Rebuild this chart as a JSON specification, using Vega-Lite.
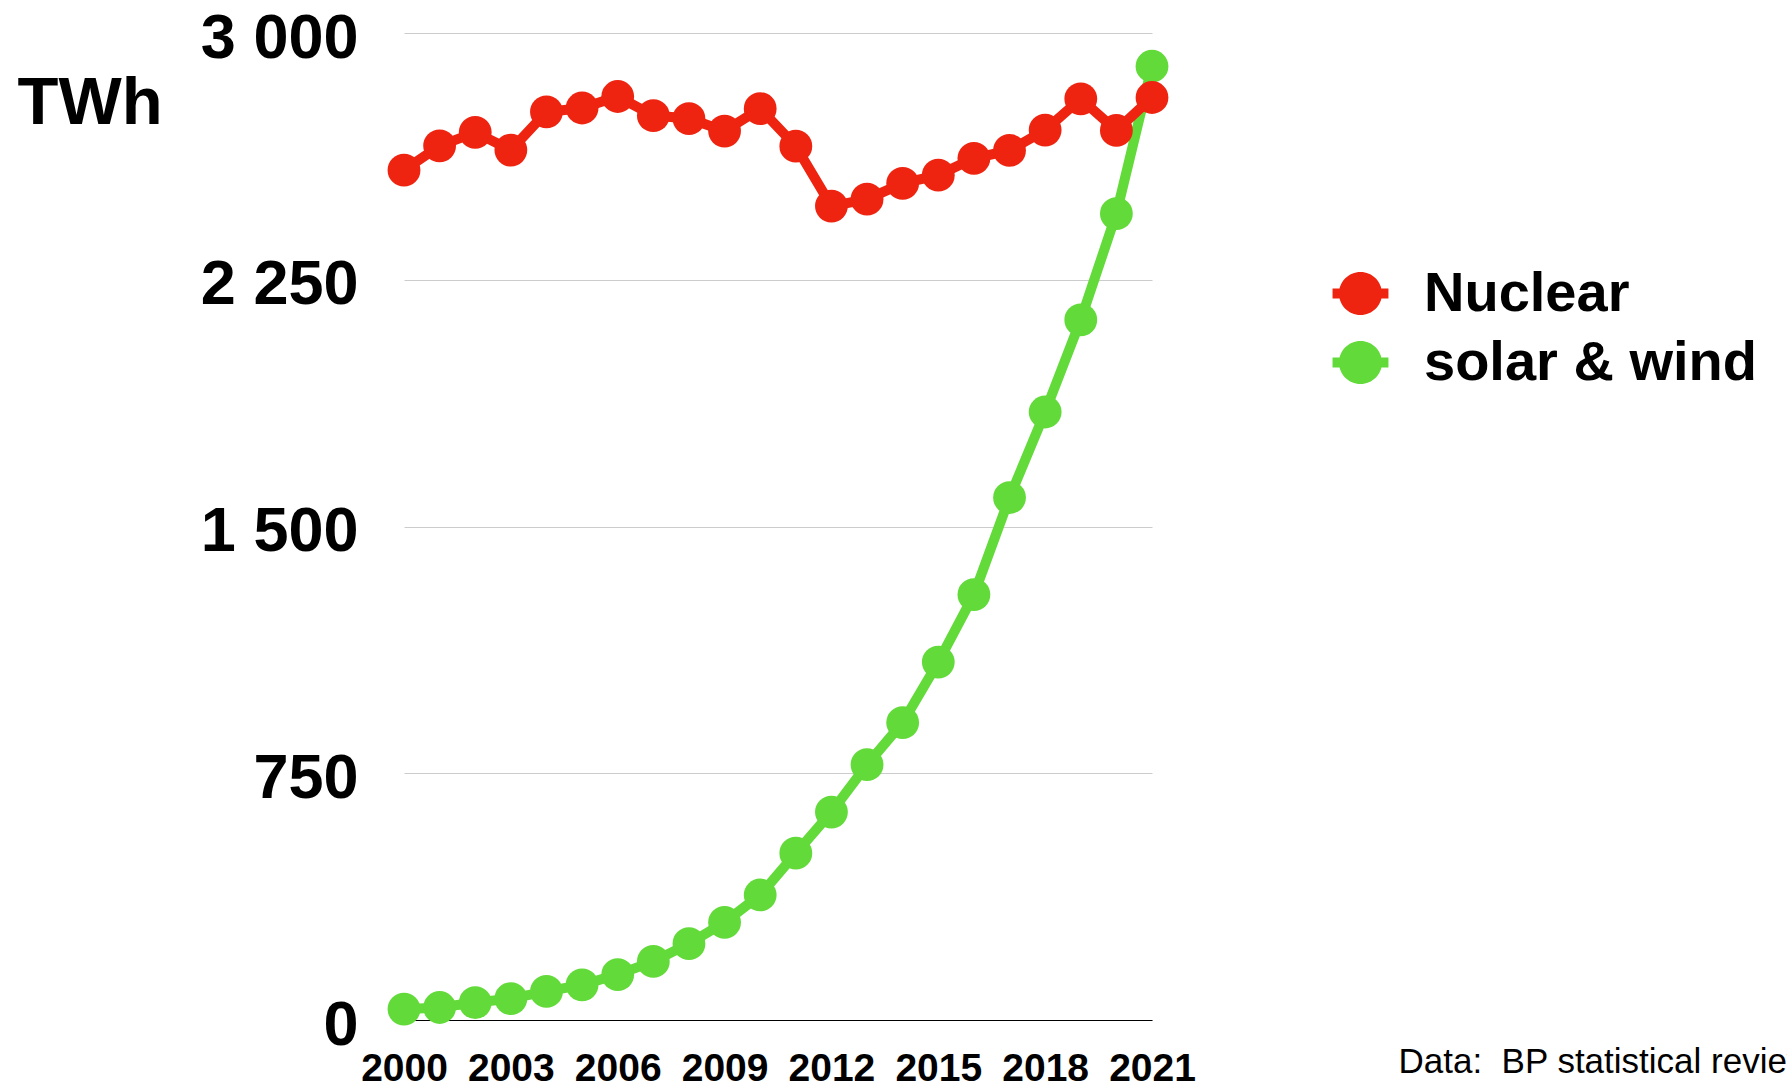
{
  "$schema": "https://vega.github.io/schema/vega-lite/v6.json",
  "autosize": {"type": "none"},
  "padding": {"left": 404, "top": 33, "right": 635, "bottom": 69},
  "width": 748,
  "height": 987,
  "background": "white",
  "config": {
    "view": {"stroke": null},
    "font": "Liberation Sans"
  },
  "data": {"values": [
    {"year": 2000, "source": "Nuclear", "value": 2583},
    {"year": 2001, "source": "Nuclear", "value": 2657},
    {"year": 2002, "source": "Nuclear", "value": 2698},
    {"year": 2003, "source": "Nuclear", "value": 2644},
    {"year": 2004, "source": "Nuclear", "value": 2760},
    {"year": 2005, "source": "Nuclear", "value": 2772},
    {"year": 2006, "source": "Nuclear", "value": 2807},
    {"year": 2007, "source": "Nuclear", "value": 2749},
    {"year": 2008, "source": "Nuclear", "value": 2740},
    {"year": 2009, "source": "Nuclear", "value": 2702},
    {"year": 2010, "source": "Nuclear", "value": 2770},
    {"year": 2011, "source": "Nuclear", "value": 2656},
    {"year": 2012, "source": "Nuclear", "value": 2474},
    {"year": 2013, "source": "Nuclear", "value": 2495},
    {"year": 2014, "source": "Nuclear", "value": 2543},
    {"year": 2015, "source": "Nuclear", "value": 2568},
    {"year": 2016, "source": "Nuclear", "value": 2619},
    {"year": 2017, "source": "Nuclear", "value": 2643},
    {"year": 2018, "source": "Nuclear", "value": 2705},
    {"year": 2019, "source": "Nuclear", "value": 2800},
    {"year": 2020, "source": "Nuclear", "value": 2704},
    {"year": 2021, "source": "Nuclear", "value": 2804},
    {"year": 2000, "source": "solar & wind", "value": 33},
    {"year": 2001, "source": "solar & wind", "value": 38},
    {"year": 2002, "source": "solar & wind", "value": 53},
    {"year": 2003, "source": "solar & wind", "value": 65},
    {"year": 2004, "source": "solar & wind", "value": 87},
    {"year": 2005, "source": "solar & wind", "value": 107},
    {"year": 2006, "source": "solar & wind", "value": 138},
    {"year": 2007, "source": "solar & wind", "value": 178},
    {"year": 2008, "source": "solar & wind", "value": 232},
    {"year": 2009, "source": "solar & wind", "value": 297},
    {"year": 2010, "source": "solar & wind", "value": 380},
    {"year": 2011, "source": "solar & wind", "value": 507},
    {"year": 2012, "source": "solar & wind", "value": 632},
    {"year": 2013, "source": "solar & wind", "value": 776},
    {"year": 2014, "source": "solar & wind", "value": 904},
    {"year": 2015, "source": "solar & wind", "value": 1088},
    {"year": 2016, "source": "solar & wind", "value": 1293},
    {"year": 2017, "source": "solar & wind", "value": 1588},
    {"year": 2018, "source": "solar & wind", "value": 1848},
    {"year": 2019, "source": "solar & wind", "value": 2128},
    {"year": 2020, "source": "solar & wind", "value": 2451},
    {"year": 2021, "source": "solar & wind", "value": 2899}
  ]},
  "encoding": {
    "x": {
      "field": "year", "type": "quantitative",
      "scale": {"domain": [2000, 2021], "nice": false, "zero": false},
      "axis": {
        "values": [2000, 2003, 2006, 2009, 2012, 2015, 2018, 2021],
        "format": "d",
        "grid": false,
        "ticks": false,
        "domain": true,
        "domainColor": "black",
        "domainWidth": 1.2,
        "labelFont": "Liberation Sans",
        "labelFontSize": 39,
        "labelFontWeight": "bold",
        "labelColor": "black",
        "labelPadding": 29,
        "labelFlush": false,
        "labelOverlap": false,
        "labelBound": false,
        "title": "Data: \u00a0BP statistical review",
        "titleFont": "Liberation Sans",
        "titleFontSize": 35,
        "titleFontWeight": "normal",
        "titleColor": "black",
        "titleAlign": "left",
        "titleBaseline": "alphabetic",
        "titleAnchor": "start",
        "titleX": 994,
        "titleY": 52
      }
    },
    "y": {
      "field": "value", "type": "quantitative",
      "scale": {"domain": [0, 3000], "nice": false},
      "axis": {
        "values": [0, 750, 1500, 2250, 3000],
        "labelExpr": "replace(format(datum.value, ','), ',', ' ')",
        "grid": true,
        "gridColor": "#cccccc",
        "gridWidth": 1,
        "ticks": false,
        "domain": false,
        "labelFont": "Liberation Sans",
        "labelFontSize": 63,
        "labelFontWeight": "bold",
        "labelColor": "black",
        "labelPadding": 46,
        "labelOffset": 5,
        "labelFlush": false,
        "labelOverlap": false,
        "labelBound": false,
        "title": "TWh",
        "titleFont": "Liberation Sans",
        "titleFontSize": 67,
        "titleFontWeight": "bold",
        "titleColor": "black",
        "titleAngle": 0,
        "titleAlign": "left",
        "titleBaseline": "alphabetic",
        "titleX": -387,
        "titleY": 90
      }
    },
    "color": {
      "field": "source", "type": "nominal",
      "scale": {"domain": ["Nuclear", "solar & wind"], "range": ["#EE2410", "#62DA39"]},
      "legend": {
        "title": null,
        "orient": "none",
        "legendX": 928.5,
        "legendY": 232.5,
        "padding": 0,
        "rowPadding": 13,
        "symbolType": "M-1.3,-0.23H1.3V0.23H-1.3Z M0,-1A1,1 0 1,1 0,1A1,1 0 1,1 0,-1Z",
        "symbolSize": 1849,
        "symbolStrokeWidth": 0,
        "symbolOpacity": 1,
        "labelFont": "Liberation Sans",
        "labelFontSize": 56,
        "labelFontWeight": "bold",
        "labelColor": "black",
        "labelOffset": 35.5,
        "labelLimit": 0
      }
    }
  },
  "layer": [
    {
      "transform": [{"filter": "datum.source === 'solar & wind'"}],
      "mark": {"type": "line", "strokeWidth": 10, "clip": false}
    },
    {
      "transform": [{"filter": "datum.source === 'solar & wind'"}],
      "mark": {"type": "point", "filled": true, "size": 1075, "opacity": 1, "clip": false}
    },
    {
      "transform": [{"filter": "datum.source === 'Nuclear'"}],
      "mark": {"type": "line", "strokeWidth": 10, "clip": false}
    },
    {
      "transform": [{"filter": "datum.source === 'Nuclear'"}],
      "mark": {"type": "point", "filled": true, "size": 1075, "opacity": 1, "clip": false}
    }
  ]
}
